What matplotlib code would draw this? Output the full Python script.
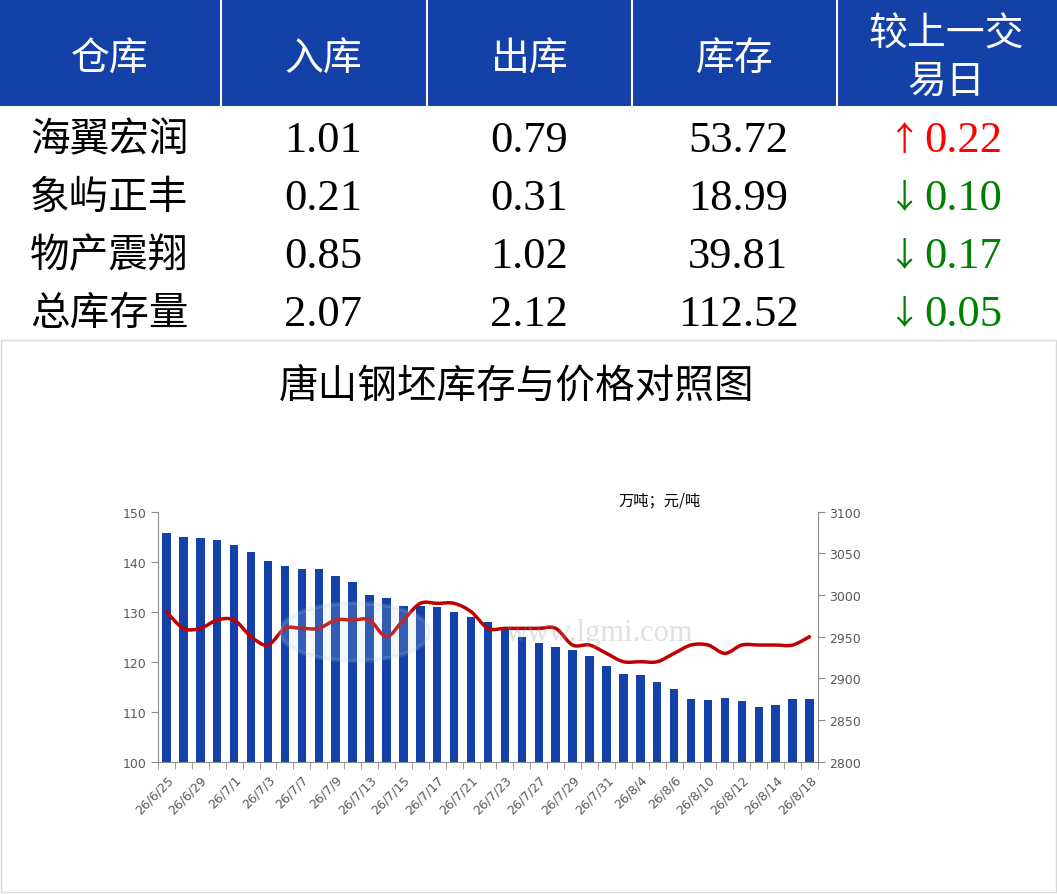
import matplotlib
matplotlib.use("Agg")
import matplotlib.pyplot as plt
import numpy as np
from matplotlib.patches import Rectangle, PathPatch, Ellipse
from matplotlib.path import Path

# ---------------- data ----------------
header = ["仓库", "入库", "出库", "库存", "较上一交\n易日"]
warehouses = ["海翼宏润", "象屿正丰", "物产震翔", "总库存量"]
in_vals = [1.01, 0.21, 0.85, 2.07]
out_vals = [0.79, 0.31, 1.02, 2.12]
stock_vals = [53.72, 18.99, 39.81, 112.52]
change_vals = [0.22, -0.10, -0.17, -0.05]

chart_title = "唐山钢坯库存与价格对照图"
unit_label = "万吨；元/吨"

dates = ["26/6/25", "26/6/26", "26/6/29", "26/6/30", "26/7/1", "26/7/2", "26/7/3",
         "26/7/6", "26/7/7", "26/7/8", "26/7/9", "26/7/10", "26/7/13", "26/7/14",
         "26/7/15", "26/7/16", "26/7/17", "26/7/20", "26/7/21", "26/7/22", "26/7/23",
         "26/7/24", "26/7/27", "26/7/28", "26/7/29", "26/7/30", "26/7/31", "26/8/3",
         "26/8/4", "26/8/5", "26/8/6", "26/8/7", "26/8/10", "26/8/11", "26/8/12",
         "26/8/13", "26/8/14", "26/8/17", "26/8/18"]
inventory = [145.7, 144.9, 144.7, 144.4, 143.4, 141.9, 140.1, 139.1, 138.5, 138.5,
             137.1, 135.9, 133.4, 132.7, 131.2, 131.2, 130.9, 129.9, 128.9, 127.9,
             126.4, 124.9, 123.7, 122.9, 122.4, 121.2, 119.1, 117.6, 117.4, 116.0,
             114.5, 112.5, 112.3, 112.7, 112.1, 111.0, 111.3, 112.57, 112.52]
price = [2980, 2960, 2960, 2970, 2970, 2950, 2940, 2960, 2960, 2960,
         2970, 2970, 2970, 2950, 2970, 2990, 2990, 2990, 2980, 2960,
         2960, 2960, 2960, 2960, 2940, 2940, 2930, 2920, 2920, 2920,
         2930, 2940, 2940, 2930, 2940, 2940, 2940, 2940, 2950]
left_ticks = [100, 110, 120, 130, 140, 150]
right_ticks = [2800, 2850, 2900, 2950, 3000, 3050, 3100]
watermark = "www.lgmi.com"

# ---------------- styles ----------------
W, H = 1057, 895
BLUE = "#1441A8"
BAR = "#1341A9"
LINE = "#C00000"
GRAY_TXT = "#595959"
SPINE = "#8C8C8C"
CJK = ["Noto Sans CJK SC", "DejaVu Sans"]
NUMF = ["Liberation Serif", "DejaVu Serif"]

fig = plt.figure(figsize=(W / 100, H / 100), dpi=100)
fig.patch.set_facecolor("white")

# overlay in pixel coords
ov = fig.add_axes([0, 0, 1, 1])
ov.set_xlim(0, W)
ov.set_ylim(H, 0)
ov.axis("off")
ov.set_zorder(0)

# header band
ov.add_patch(Rectangle((0, 0), W, 107, facecolor=BLUE, edgecolor="none"))
col_edges = [0, 221, 427, 632, 837, W]
for xe in col_edges[1:-1]:
    ov.plot([xe, xe], [0, 107], color="white", lw=1.5)
col_centers = [110, 323, 530, 735, 946]
for i, h in enumerate(header):
    if "\n" in h:
        l1, l2 = h.split("\n")
        ov.text(col_centers[i], 35, l1, color="white", fontsize=28, family=CJK,
                ha="center", va="center")
        ov.text(col_centers[i], 82, l2, color="white", fontsize=28, family=CJK,
                ha="center", va="center")
    else:
        ov.text(col_centers[i], 60, h, color="white", fontsize=28, family=CJK,
                ha="center", va="center")

row_y = [140, 198, 256, 314]
for r in range(len(warehouses)):
    y = row_y[r]
    ov.text(30, y, warehouses[r], color="black", fontsize=28.5, family=CJK,
            ha="left", va="center")
    ov.text(323, y + 1, f"{in_vals[r]:.2f}", color="black", fontsize=32, family=NUMF,
            ha="center", va="center")
    ov.text(529, y + 1, f"{out_vals[r]:.2f}", color="black", fontsize=32, family=NUMF,
            ha="center", va="center")
    ov.text(738, y + 1, f"{stock_vals[r]:.2f}", color="black", fontsize=32, family=NUMF,
            ha="center", va="center")
    c = change_vals[r]
    colr = "#FF0000" if c > 0 else "#008000"
    arrow = "↑" if c > 0 else "↓"
    ov.text(904, y, arrow, color=colr, fontsize=24, family=CJK, ha="center", va="center")
    ov.text(924, y + 1, f"{abs(c):.2f}", color=colr, fontsize=32, family=NUMF,
            ha="left", va="center")

# chart border
ov.add_patch(Rectangle((0.5, 340.5), 1055, 552.5, facecolor="none",
                       edgecolor="#D9D9D9", lw=1))
ov.text(517, 387, chart_title, color="black", fontsize=28.5, family=CJK,
        ha="center", va="center")
ov.text(660, 501, unit_label, color="black", fontsize=11, family=CJK,
        ha="center", va="center")

# ---------------- chart ----------------
ax = fig.add_axes([158 / W, 1 - 762.7 / H, 660 / W, 250 / H])
ax.set_zorder(1)
ax.patch.set_alpha(0)
x = np.arange(len(dates))
ax.bar(x, inventory, width=0.5, color=BAR, zorder=2)
ax.set_xlim(-0.5, len(dates) - 0.5)
ax.set_ylim(left_ticks[0], left_ticks[-1])
ax.set_yticks(left_ticks)
ax.set_xticks(x[::2])
ax.set_xticklabels([dates[i] for i in x[::2]], rotation=45, ha="right",
                   rotation_mode="anchor", fontsize=9, color=GRAY_TXT)
ax.set_xticks(np.arange(-0.5, len(dates), 1.0), minor=True)
ax.tick_params(axis="x", which="major", length=0, pad=8)
ax.tick_params(axis="x", which="minor", length=5, color=SPINE, direction="out")
ax.tick_params(axis="y", length=5, color=SPINE, labelsize=9, labelcolor=GRAY_TXT, pad=3)
for s in ["top", "right"]:
    ax.spines[s].set_visible(False)
for s in ["left", "bottom"]:
    ax.spines[s].set_color(SPINE)

ax2 = ax.twinx()
ax2.set_ylim(right_ticks[0], right_ticks[-1])
ax2.set_yticks(right_ticks)
ax2.tick_params(axis="y", length=5, color=SPINE, labelsize=9, labelcolor=GRAY_TXT, pad=3)
for s in ["top", "left", "bottom"]:
    ax2.spines[s].set_visible(False)
ax2.spines["right"].set_color(SPINE)

# smoothed price line (Bezier through the data points)
pts = np.column_stack([x, price]).astype(float)
n = len(pts)
verts = [pts[0]]
codes = [Path.MOVETO]
for i in range(n - 1):
    p0 = pts[max(i - 1, 0)]
    p1 = pts[i]
    p2 = pts[i + 1]
    p3 = pts[min(i + 2, n - 1)]
    c1 = p1 + (p2 - p0) / 6.0
    c2 = p2 - (p3 - p1) / 6.0
    verts += [c1, c2, p2]
    codes += [Path.CURVE4] * 3
ax2.add_patch(PathPatch(Path(verts, codes), facecolor="none", edgecolor=LINE,
                        lw=2.5, capstyle="round", joinstyle="round", zorder=3))

# faint watermark
ov2 = fig.add_axes([0, 0, 1, 1])
ov2.set_xlim(0, W)
ov2.set_ylim(H, 0)
ov2.axis("off")
ov2.set_zorder(2)
ov2.add_patch(Ellipse((355, 633), 150, 58, facecolor="#C9DAEE", edgecolor="#B0C8E6",
                      alpha=0.18, lw=3))
ov2.text(600, 633, watermark, color="#9A9A9A", alpha=0.3, fontsize=22,
         family=NUMF, ha="center", va="center")

fig.savefig("out.png", dpi=100, facecolor="white")
